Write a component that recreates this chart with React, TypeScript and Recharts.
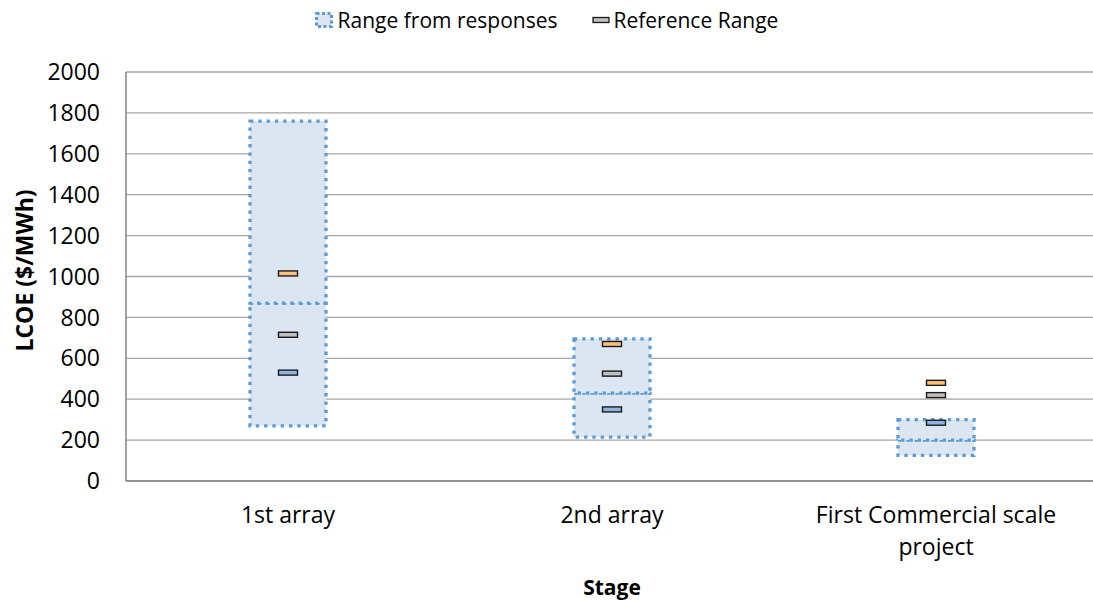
import React from "react";
import {
  ComposedChart,
  Bar,
  Line,
  XAxis,
  YAxis,
  CartesianGrid,
  Legend,
} from "recharts";

// Stages on the x axis
const stages = ["1st array", "2nd array", "First Commercial scale project"];
// how each stage label is broken into lines under the axis
const stageLabelLines = [["1st array"], ["2nd array"], ["First Commercial scale", "project"]];

// Range from responses (low / median split / high), $/MWh
const responseLow = [270, 215, 125];
const responseMid = [870, 430, 200];
const responseHigh = [1760, 695, 300];

// Reference range markers
const referenceLow = [530, 350, 285];
const referenceMid = [715, 525, 420];
const referenceHigh = [1015, 670, 480];

const yTicks = [0, 200, 400, 600, 800, 1000, 1200, 1400, 1600, 1800, 2000];

const FONT = "'Open Sans', sans-serif";
const BOX_STROKE = "#5B9BD5";
const BOX_FILL = "#DCE6F2";

const chartData = stages.map((stage, i) => ({
  stage,
  base: responseLow[i],
  lower: responseMid[i] - responseLow[i],
  upper: responseHigh[i] - responseMid[i],
  refLow: referenceLow[i],
  refMid: referenceMid[i],
  refHigh: referenceHigh[i],
}));

// small flat marker used for the reference values
const marker = (fill: string) => (props: any) => {
  const { cx, cy, index } = props;
  if (cx == null || cy == null) return <g key={index} />;
  return (
    <rect
      key={index}
      x={cx - 9.5}
      y={cy - 2.5}
      width={19}
      height={5}
      fill={fill}
      stroke="#1a1a1a"
      strokeWidth={1.4}
    />
  );
};

const StageTick = (props: any) => {
  const { x, y, payload } = props;
  const idx = stages.indexOf(payload.value);
  const lines = idx >= 0 ? stageLabelLines[idx] : [String(payload.value)];
  return (
    <text
      x={x}
      y={y}
      textAnchor="middle"
      fill="#000"
      fontFamily={FONT}
      fontSize={23}
    >
      {lines.map((line, i) => (
        <tspan key={i} x={x} dy={i === 0 ? 16 : 32}>
          {line}
        </tspan>
      ))}
    </text>
  );
};

const LegendContent = () => (
  <div
    style={{
      height: 40,
      width: 1093,
      display: "flex",
      justifyContent: "center",
      alignItems: "center",
      fontFamily: FONT,
      fontSize: 21,
      color: "#000",
    }}
  >
    <div style={{ display: "flex", alignItems: "center", marginRight: 34 }}>
      <svg width={18} height={16} style={{ marginRight: 5 }}>
        <rect
          x={1.5}
          y={1.5}
          width={15}
          height={13}
          fill={BOX_FILL}
          stroke={BOX_STROKE}
          strokeWidth={3}
          strokeDasharray="3 2.5"
        />
      </svg>
      <span>Range from responses</span>
    </div>
    <div style={{ display: "flex", alignItems: "center" }}>
      <svg width={18} height={8} style={{ marginRight: 4 }}>
        <rect x={1} y={1.5} width={16} height={5} fill="#BFBFBF" stroke="#1a1a1a" strokeWidth={1.3} />
      </svg>
      <span>Reference Range</span>
    </div>
  </div>
);

export default function App() {
  return (
    <div
      style={{
        position: "absolute",
        left: 0,
        top: 0,
        width: 1093,
        height: 602,
        overflow: "hidden",
        background: "#fff",
      }}
    >
      <ComposedChart
        width={1100}
        height={602}
        data={chartData}
        margin={{ top: 32, right: 2, left: 0, bottom: 0 }}
      >
        <Legend
          verticalAlign="top"
          content={<LegendContent />}
          wrapperStyle={{ top: 0, left: 0, width: 1093, height: 40 }}
        />
        <CartesianGrid vertical={false} stroke="#A6A6A6" strokeWidth={1.3} />
        <XAxis
          dataKey="stage"
          height={121}
          interval={0}
          tickSize={0}
          tickMargin={26}
          axisLine={{ stroke: "#868686", strokeWidth: 1.5 }}
          tick={<StageTick />}
          label={({ viewBox }: any) => (
            <text
              x={viewBox.x + viewBox.width / 2}
              y={viewBox.y + 106}
              textAnchor="middle"
              dominantBaseline="central"
              fontFamily={FONT}
              fontSize={21}
              fontWeight="bold"
              fill="#000"
            >
              Stage
            </text>
          )}
        />
        <YAxis
          width={126}
          domain={[0, 2000]}
          ticks={yTicks}
          interval={0}
          tickSize={0}
          tickMargin={26}
          axisLine={{ stroke: "#868686", strokeWidth: 1.5 }}
          tick={{ fill: "#000", fontSize: 23, fontFamily: FONT }}
          label={({ viewBox }: any) => {
            const cx = 24;
            const cy = viewBox.y + viewBox.height / 2 - 6;
            return (
              <text
                x={cx}
                y={cy}
                transform={`rotate(-90 ${cx} ${cy})`}
                textAnchor="middle"
                dominantBaseline="central"
                fontFamily={FONT}
                fontSize={23}
                fontWeight="bold"
                fill="#000"
              >
                LCOE ($/MWh)
              </text>
            );
          }}
        />

        {/* invisible base so the response box floats */}
        <Bar dataKey="base" stackId="r" fill="transparent" barSize={76} isAnimationActive={false} legendType="none" />
        <Bar
          dataKey="lower"
          stackId="r"
          fill={BOX_FILL}
          stroke={BOX_STROKE}
          strokeWidth={3.3}
          strokeDasharray="3.3 5"
          barSize={76}
          isAnimationActive={false}
          legendType="none"
        />
        <Bar
          dataKey="upper"
          stackId="r"
          fill={BOX_FILL}
          stroke={BOX_STROKE}
          strokeWidth={3.3}
          strokeDasharray="3.3 5"
          barSize={76}
          isAnimationActive={false}
          legendType="none"
        />

        {/* reference range markers */}
        <Line dataKey="refLow" stroke="none" dot={marker("#8EB4E3")} activeDot={false} isAnimationActive={false} legendType="none" />
        <Line dataKey="refMid" stroke="none" dot={marker("#BFBFBF")} activeDot={false} isAnimationActive={false} legendType="none" />
        <Line dataKey="refHigh" stroke="none" dot={marker("#FAC27A")} activeDot={false} isAnimationActive={false} legendType="none" />
      </ComposedChart>
    </div>
  );
}
